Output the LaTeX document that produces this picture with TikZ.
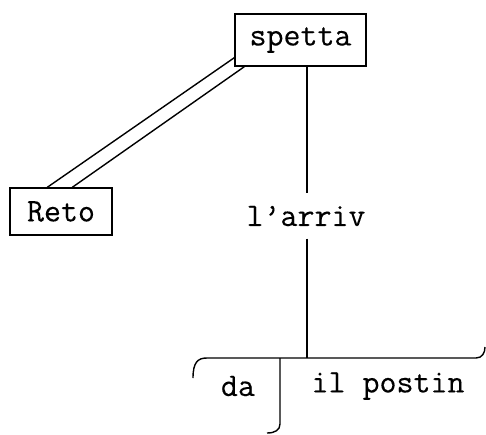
\documentclass[tikz,border=0pt]{standalone}
\usepackage{fontspec}
\newfontfamily\twfont{Latin Modern Mono}[FakeBold=0.2]
\usetikzlibrary{calc}
\begin{document}
\begin{tikzpicture}[x=1pt,y=-1pt,line width=1.4pt,
  word/.style={font=\twfont\fontsize{33}{35}\selectfont,inner sep=0pt,anchor=center},
  boxed/.style={word,draw,line width=1.4pt}]
\useasboundingbox (0,0) rectangle (486,434);
\node[boxed,minimum width=131pt,minimum height=52pt] (spetta) at (300.5,40) {spetta};
\node[boxed,minimum width=102pt,minimum height=47pt] (Reto) at (61,211.5) {Reto};
\node[word,minimum height=44pt] (arriv) at (306,216) {l’arriv};
\node[word] (da) at (238,386) {da};
\node[word] (postin) at (388,386) {il postin};
\coordinate (a1) at ($(spetta.south west)+(0,-9)$);
\coordinate (a2) at ($(spetta.south west)+(10,0)$);
\coordinate (b1) at ($(Reto.north west)+(38,0)$);
\coordinate (b2) at ($(Reto.north west)+(63,0)$);
\draw (a1) -- (b1);
\draw (a2) -- (b2);
\coordinate (top) at (307,66);
\coordinate (j) at (307,358);
\coordinate (k) at (280,358);
\draw (top) -- (top |- arriv.north);
\draw (top |- arriv.south) -- (j);
\coordinate (bl) at (193,378);
\coordinate (br) at (485,347);
\coordinate (kb) at (267,433);
\draw (bl) .. controls (193,362) and (198,358) .. (207,358) -- (476,358) .. controls (482,358) and (485,353) .. (br);
\draw (k) -- (280,424) .. controls (280,430) and (275,433) .. (kb);
\end{tikzpicture}
\end{document}
